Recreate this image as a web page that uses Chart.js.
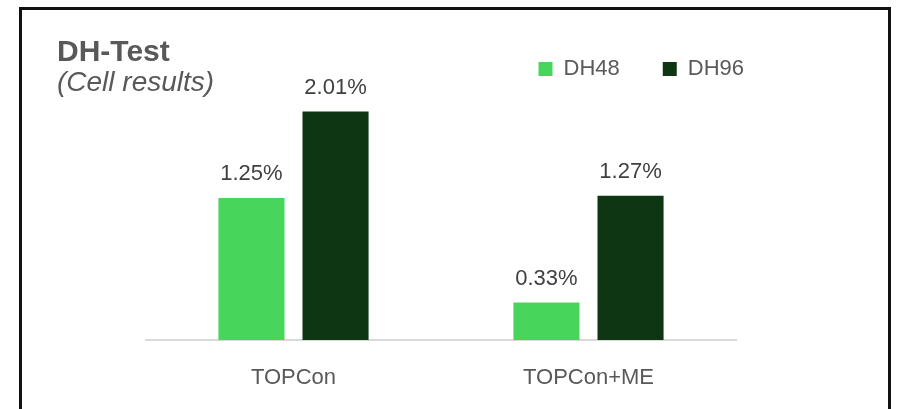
<!DOCTYPE html>
<html lang="en">
<head>
<meta charset="UTF-8">
<title>DH-Test</title>
<style>
  html, body { margin: 0; padding: 0; background: #fff; }
  #wrap { position: relative; width: 897px; height: 409px; overflow: hidden; }
  #frame { position: absolute; left: 19px; top: 7px; width: 866px; height: 500px; border: 3px solid #111; }
  #box { position: absolute; left: 0; top: 0; width: 897px; height: 409px; }
  .title { position: absolute; left: 57px; color: #595959; white-space: nowrap; }
  #t1 { top: 36px; font: bold 30px "Liberation Sans"; line-height: 30px; }
  #t2 { top: 68px; font: italic 28px "Liberation Sans"; line-height: 28px; }
</style>
</head>
<body>
<div id="wrap">
  <div id="frame"></div>
  <div id="box"><canvas id="dhChart"></canvas></div>
  <div class="title" id="t1">DH-Test</div>
  <div class="title" id="t2">(Cell results)</div>
</div>
<script src="https://cdn.jsdelivr.net/npm/chart.js"></script>
<script>
  const categories = ['TOPCon', 'TOPCon+ME'];
  const seriesNames = ['DH48', 'DH96'];
  const dh48 = [1.25, 0.33];
  const dh96 = [2.01, 1.27];

  const labelFont = 'Liberation Sans';

  // percent labels above each bar
  const valueLabels = {
    id: 'valueLabels',
    afterDatasetsDraw(chart) {
      const ctx = chart.ctx;
      ctx.save();
      ctx.font = '22px "' + labelFont + '"';
      ctx.fillStyle = '#404040';
      ctx.textAlign = 'center';
      ctx.textBaseline = 'alphabetic';
      chart.data.datasets.forEach((ds, i) => {
        chart.getDatasetMeta(i).data.forEach((bar, j) => {
          ctx.fillText(ds.data[j].toFixed(2) + '%', bar.x, bar.y - 18);
        });
      });
      ctx.restore();
    }
  };

  const ctx = document.getElementById('dhChart').getContext('2d');
  const chart = new Chart(ctx, {
    type: 'bar',
    data: {
      labels: categories,
      datasets: [{
        label: seriesNames[0],
        data: dh48,
        backgroundColor: '#48D55C',
        categoryPercentage: 0.57,
        barPercentage: 0.786
      }, {
        label: seriesNames[1],
        data: dh96,
        backgroundColor: '#0E3613',
        categoryPercentage: 0.57,
        barPercentage: 0.786
      }]
    },
    options: {
      responsive: true,
      maintainAspectRatio: false,
      animation: false,
      layout: { padding: { left: 146, right: 110, top: 15, bottom: 0 } },
      plugins: {
        legend: {
          position: 'top',
          align: 'end',
          labels: {
            boxWidth: 14,
            boxHeight: 14,
            padding: 43,
            color: '#595959',
            font: { family: labelFont, size: 22 }
          }
        },
        tooltip: { enabled: false }
      },
      scales: {
        x: {
          grid: { display: false },
          border: { display: true, color: '#D9D9D9', width: 2 },
          ticks: { color: '#595959', font: { family: labelFont, size: 22 }, padding: 17 },
          afterFit(s) { s.height = 69; }
        },
        y: {
          position: 'right',
          min: 0,
          max: 2.2,
          grid: { display: false },
          border: { display: false },
          ticks: { display: false },
          afterFit(s) { s.width = 51; }
        }
      }
    },
    plugins: [valueLabels]
  });
</script>
</body>
</html>
